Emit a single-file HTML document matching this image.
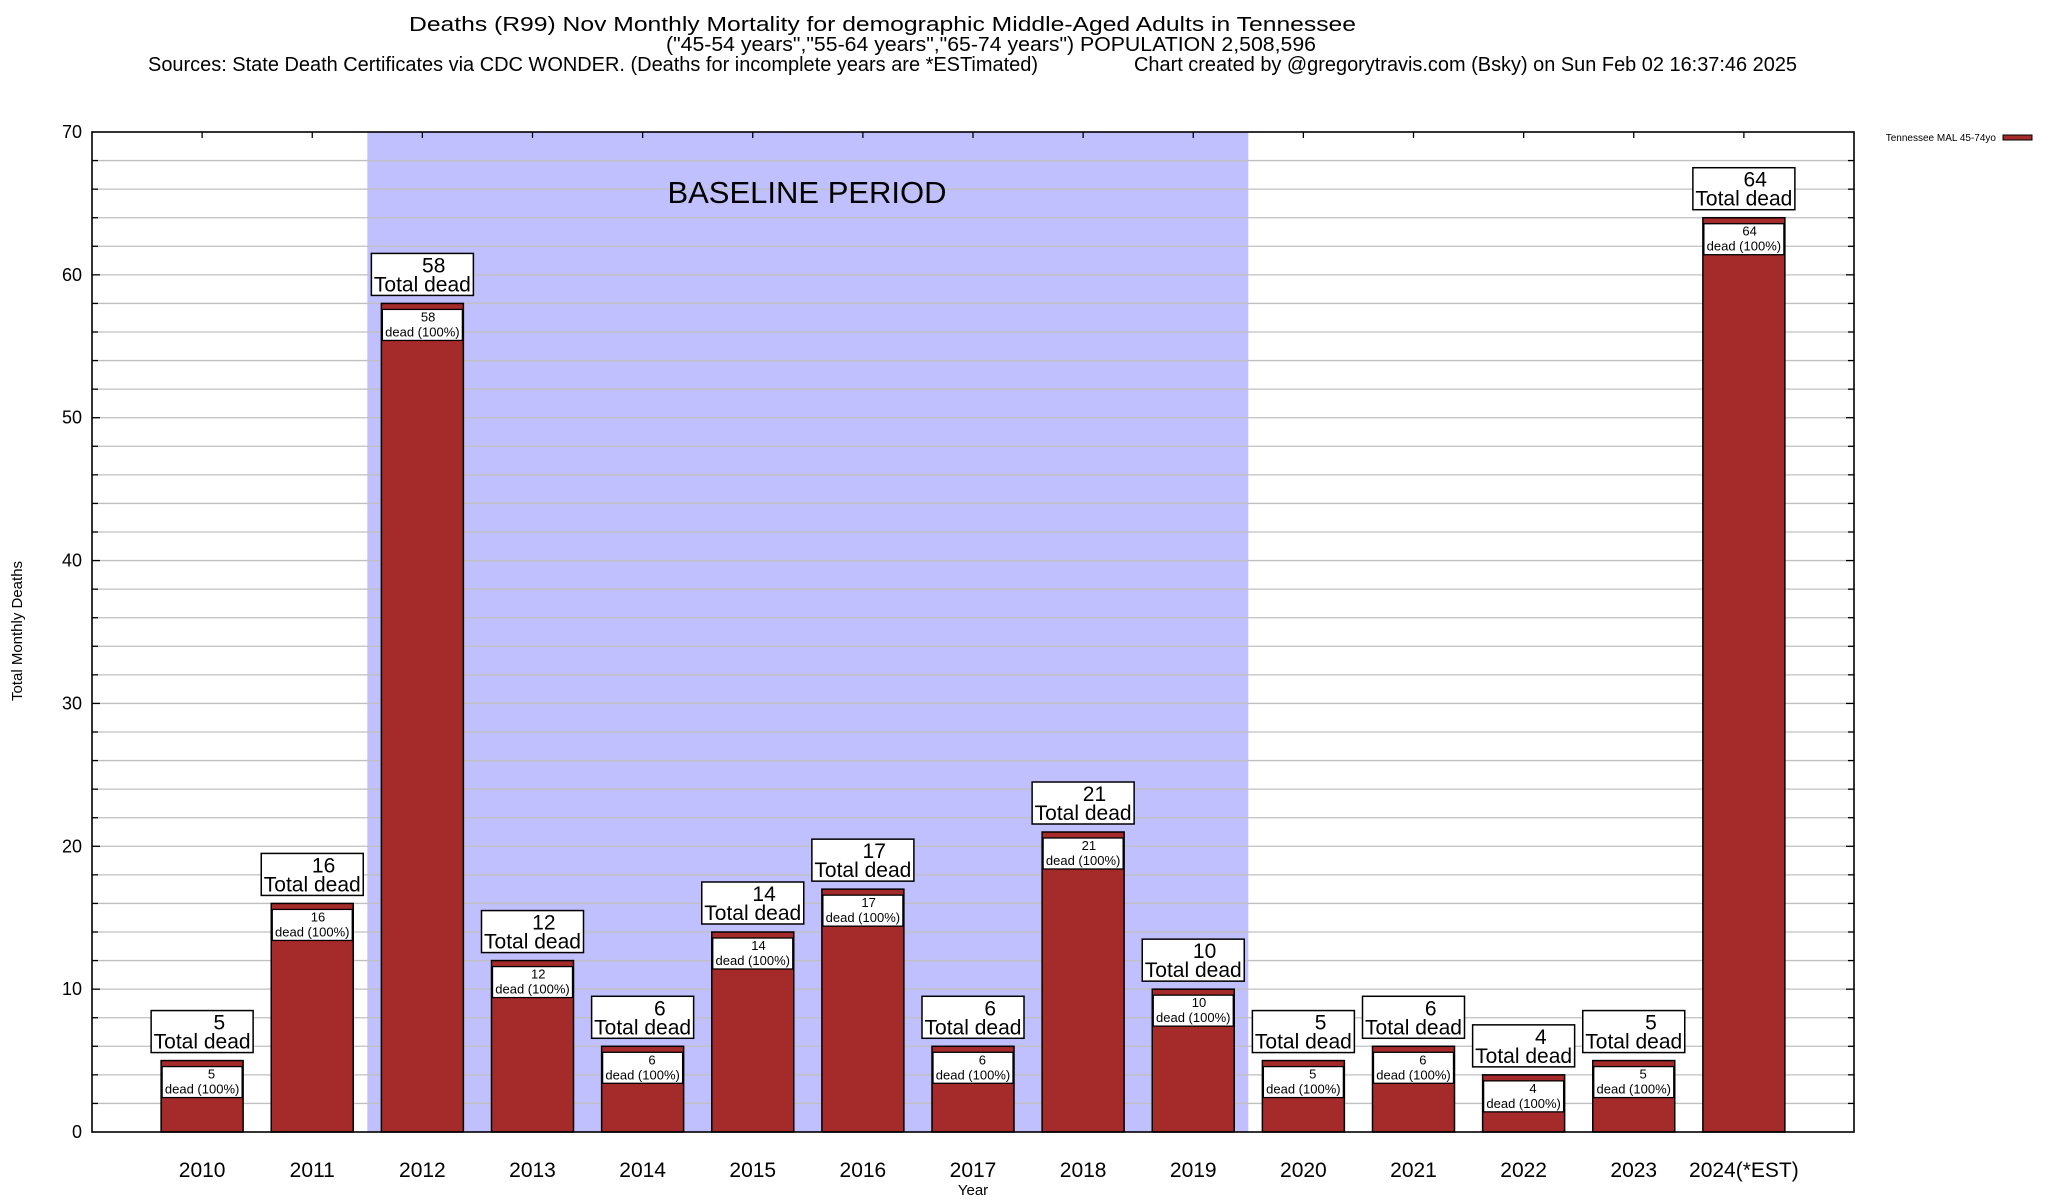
<!DOCTYPE html>
<html><head><meta charset="utf-8"><style>
html,body{margin:0;padding:0;background:#fff;}
svg{display:block;font-family:"Liberation Sans",Arial,sans-serif;}
</style></head><body>
<svg id="chart" width="2048" height="1200" viewBox="0 0 2048 1200" xmlns="http://www.w3.org/2000/svg">
<g font-size="20" fill="#000">
<text x="409" y="31" textLength="947" lengthAdjust="spacingAndGlyphs">Deaths (R99) Nov Monthly Mortality for demographic Middle-Aged Adults in Tennessee</text>
<text x="666" y="51" textLength="650" lengthAdjust="spacingAndGlyphs">("45-54 years","55-64 years","65-74 years") POPULATION 2,508,596</text>
<text x="148" y="71" textLength="890" lengthAdjust="spacingAndGlyphs">Sources: State Death Certificates via CDC WONDER. (Deaths for incomplete years are *ESTimated)</text>
<text x="1134" y="71" textLength="663" lengthAdjust="spacingAndGlyphs">Chart created by @gregorytravis.com (Bsky) on Sun Feb 02 16:37:46 2025</text>
</g>
<g id="plot"></g>
</svg>
<script>
const categories = ["2010","2011","2012","2013","2014","2015","2016","2017","2018","2019","2020","2021","2022","2023","2024(*EST)"];
const deaths = [5,16,58,12,6,14,17,6,21,10,5,6,4,5,64];
const yTicks = [0,10,20,30,40,50,60,70];
const baselineStart = 2, baselineEnd = 9;

const L=92, R=1854, T=132, B=1132, YMAX=70;
const step=(R-L)/16;
const xc=i=>L+step*(i+1);
const y=v=>B-(B-T)*v/YMAX;
const NS="http://www.w3.org/2000/svg";
const g=document.getElementById('plot');
function el(tag,attrs,parent){const e=document.createElementNS(NS,tag);for(const k in attrs)e.setAttribute(k,attrs[k]);(parent||g).appendChild(e);return e;}

const bp=el('rect',{x:xc(baselineStart)-step/2,y:T,width:step*(baselineEnd-baselineStart+1),height:B-T,fill:'#c0c0ff'});


for(let v=2;v<YMAX;v+=2){
  const gl=el('line',{x1:L,x2:R,y1:y(v),y2:y(v),stroke:'#c0c0c0','stroke-width':1.3});
  
  
  const major=v%10===0;
  el('line',{x1:L,x2:L+(major?8:6),y1:y(v),y2:y(v),stroke:'#000','stroke-width':1.3});
  el('line',{x1:R,x2:R-(major?8:6),y1:y(v),y2:y(v),stroke:'#000','stroke-width':1.3});
}
const bt=el('text',{x:807,y:203,'font-size':31,'text-anchor':'middle'});
bt.textContent='BASELINE PERIOD';



yTicks.forEach(v=>{
  const t=el('text',{x:82,y:y(v)+6,'font-size':18,'text-anchor':'end'});
  t.textContent=v;
  
  
});

deaths.forEach((v,i)=>{
  const cx=xc(i), w=82, top=y(v);
  const b=el('rect',{x:cx-w/2,y:top,width:w,height:B-top,fill:'#a52a2a',stroke:'#000','stroke-width':1.5});
  
  
  el('line',{x1:cx,x2:cx,y1:T,y2:T+6,stroke:'#000','stroke-width':1.3});
  const ib=el('rect',{x:cx-w/2+1,y:top+6,width:w-2,height:31,fill:'#fff',stroke:'#000','stroke-width':1.3});
  
  
  const n1=el('text',{x:cx+13,y:top+18,'font-size':13,'text-anchor':'end'});n1.textContent=v;
  
  
  const n2=el('text',{x:cx,y:top+33,'font-size':13,'text-anchor':'middle'});n2.textContent='dead (100%)';
  
  
  const tb=el('rect',{x:cx-51,y:top-50,width:102,height:42,fill:'#fff',stroke:'#000','stroke-width':1.5});
  
  
  const t1=el('text',{x:cx+23,y:top-31,'font-size':21,'text-anchor':'end'});t1.textContent=v;
  
  
  const t2=el('text',{x:cx,y:top-12,'font-size':21,'text-anchor':'middle'});t2.textContent='Total dead';
  
  
  const xl=el('text',{x:cx,y:1177,'font-size':21,'text-anchor':'middle'});xl.textContent=categories[i];
  
  
});

const fr=el('rect',{x:L,y:T,width:R-L,height:B-T,fill:'none',stroke:'#000','stroke-width':1.6});



const yt=el('text',{x:0,y:0,'font-size':15,'text-anchor':'middle',transform:'translate(22,631) rotate(-90)'});
yt.textContent='Total Monthly Deaths';


const xt=el('text',{x:973,y:1195,'font-size':15,'text-anchor':'middle'});
xt.textContent='Year';



const lt=el('text',{x:1996,y:141,'font-size':10,'text-anchor':'end'});
lt.textContent='Tennessee MAL 45-74yo';


const ls=el('rect',{x:2003,y:135,width:29,height:5,fill:'#a52a2a',stroke:'#000','stroke-width':1});


</script>
</body></html>
